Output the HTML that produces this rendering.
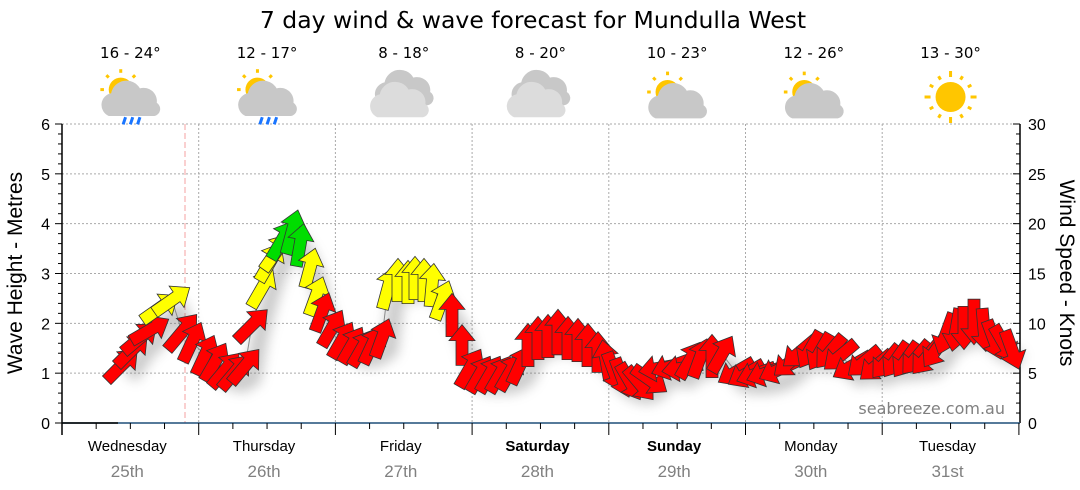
<!DOCTYPE html>
<html><head><meta charset="utf-8"><style>
body{margin:0;background:#fff;width:1080px;height:490px;overflow:hidden}
svg{display:block}
text{font-family:"Liberation Sans","DejaVu Sans",sans-serif}
.dv{font-family:"DejaVu Sans","Liberation Sans",sans-serif}
</style></head><body>
<svg id="s" width="1080" height="490" xmlns="http://www.w3.org/2000/svg">
<defs>
<filter id="sh" x="-50%" y="-50%" width="200%" height="200%"><feGaussianBlur stdDeviation="6"/></filter>
<g id="cloud"><path d="M-22,12 a10,10 0 0 1 2,-19 a13,13 0 0 1 24,-4 a11,11 0 0 1 14,12 a6,6 0 0 1 -2,11 z" fill="#c8c8c8"/></g>
<g id="sunsm" fill="#ffc600" stroke="#ffc600">
<circle cx="0" cy="0" r="10" stroke="none"/>
<g stroke-width="2.5"><line x1="0" y1="-14" x2="0" y2="-17"/><line x1="-14" y1="0" x2="-17" y2="0"/><line x1="10" y1="-10" x2="12" y2="-12"/><line x1="-10" y1="-10" x2="-12" y2="-12"/><line x1="-10" y1="10" x2="-12" y2="12"/></g>
</g>
<g id="rain" stroke="#1a75ff" stroke-width="2.5"><line x1="-6" y1="0" x2="-8" y2="6"/><line x1="0" y1="0" x2="-2" y2="6"/><line x1="6" y1="0" x2="4" y2="6"/></g>
</defs>
<text class="dv" x="533" y="28" text-anchor="middle" font-size="23.5" fill="#000">7 day wind &amp; wave forecast for Mundulla West</text>
<g id="grid"></g>
<g id="arrows"></g>
<g id="top"></g>
</svg>
<script>
const NS="http://www.w3.org/2000/svg";
function el(p,t,a,txt){const e=document.createElementNS(NS,t);for(const k in a)e.setAttribute(k,a[k]);if(txt!=null)e.textContent=txt;p.appendChild(e);return e;}
const g=document.getElementById('grid'),top_=document.getElementById('top'),ar=document.getElementById('arrows');
const X0=62,X1=1020,Y0=423,Y6=124,DW=136.7;
const yv=v=>Y0-(Y0-Y6)*v/6;
for(let i=1;i<=6;i++){el(g,'line',{x1:X0,x2:X1,y1:yv(i),y2:yv(i),stroke:'#aaa','stroke-dasharray':'2,2'});}
for(let d=1;d<7;d++){const x=X0+d*DW;el(g,'line',{x1:x,x2:x,y1:Y6,y2:Y0,stroke:'#aaa','stroke-dasharray':'2,2'});}
el(g,'line',{x1:185,x2:185,y1:Y6,y2:Y0,stroke:'#f4a0a0','stroke-dasharray':'6,3'});
el(g,'line',{x1:X0,x2:X0,y1:Y6,y2:Y0+12,stroke:'#000','stroke-width':1.5});
for(let i=0;i<=30;i++){const y=yv(i/5);el(g,'line',{x1:X0-(i%5?4:7),x2:X0,y1:y,y2:y,stroke:'#000'});}
for(let i=0;i<=6;i++)el(g,'text',{x:50,y:yv(i)+6,'text-anchor':'end','font-size':16},i);
el(g,'line',{x1:X1,x2:X1,y1:Y6,y2:Y0,stroke:'#000','stroke-width':1.5});
for(let i=0;i<=30;i++){const y=yv(i/5);el(g,'line',{x1:X1,x2:X1-(i%5?4:7),y1:y,y2:y,stroke:'#000'});}
for(let i=0;i<=6;i++)el(g,'text',{x:1028,y:yv(i)+6,'font-size':16},i*5);
el(g,'text',{x:22,y:273,'text-anchor':'middle','font-size':21,transform:'rotate(-90 22 273)'},'Wave Height - Metres');
el(g,'text',{x:1060,y:273,'text-anchor':'middle','font-size':21,transform:'rotate(90 1060 273)'},'Wind Speed - Knots');
el(g,'line',{x1:X0,x2:X1,y1:Y0,y2:Y0,stroke:'#1f4e79','stroke-width':1.5});
el(g,'line',{x1:X0,x2:118,y1:Y0,y2:Y0,stroke:'#000','stroke-width':1.5});
for(let k=0;k<=28;k++){const x=X0+k*DW/4;el(g,'line',{x1:x,x2:x,y1:Y0,y2:Y0+(k%4?6:12),stroke:'#000'});}
const days=['Wednesday','Thursday','Friday','Saturday','Sunday','Monday','Tuesday'],dates=['25th','26th','27th','28th','29th','30th','31st'];
const temps=['16 - 24°','12 - 17°','8 - 18°','8 - 20°','10 - 23°','12 - 26°','13 - 30°'];
for(let d=0;d<7;d++){const cx=X0+d*DW+DW/2-3;
 el(g,'text',{x:cx,y:451,'text-anchor':'middle','font-size':15,'font-weight':(d==3||d==4)?'bold':'normal'},days[d]);
 el(g,'text',{x:cx,y:477,'text-anchor':'middle','font-size':17,fill:'#808080'},dates[d]);
 el(top_,'text',{class:'dv',x:cx+3,y:58,'text-anchor':'middle','font-size':15},temps[d]);
 const ix=cx+3,iy=98;
 const w=el(top_,'g',{transform:`translate(${ix},${iy}) scale(1.2) translate(${-ix},${-iy})`});
 if(d<2){el(w,'use',{href:'#sunsm',x:ix-8,y:iy-7});el(w,'use',{href:'#cloud',x:ix+4,y:iy+3});el(w,'use',{href:'#rain',x:ix+2,y:iy+16});}
 else if(d<4){const c=el(w,'g',{transform:`translate(${ix},${iy})`});el(c,'path',{d:'M-18,6 a10,10 0 0 1 2,-19 a13,13 0 0 1 24,-4 a11,11 0 0 1 14,12 a6,6 0 0 1 -2,11 z',fill:'#c8c8c8'});el(c,'path',{d:'M-22,16 a10,10 0 0 1 2,-19 a13,13 0 0 1 24,-4 a11,11 0 0 1 14,12 a6,6 0 0 1 -2,11 z',fill:'#dcdcdc'});}
 else if(d<6){el(w,'use',{href:'#sunsm',x:ix-8,y:iy-5});el(w,'use',{href:'#cloud',x:ix+4,y:iy+5});}
 else{const s=el(top_,'g',{transform:`translate(${ix},${iy-1})`,stroke:'#ffc600','stroke-width':3});el(s,'circle',{r:15,fill:'#ffc600',stroke:'none'});
  for(let a=0;a<360;a+=30){const r=a*Math.PI/180,r1=20,r2=a%90?24:26;el(s,'line',{x1:r1*Math.sin(r),y1:-r1*Math.cos(r),x2:r2*Math.sin(r),y2:-r2*Math.cos(r)});}}
}
el(g,'text',{class:'dv',x:1005,y:414,'text-anchor':'end','font-size':16,fill:'#808080'},'seabreeze.com.au');
const R='#ff0000',Y='#ffff00',G='#00dd00';
const A=[
[122,365,45,R,36],[132,350,45,R,36],[140,338,50,R,36],[150,330,60,R,36],[160,308,55,Y,36],[172,300,55,Y,36],
[182,332,40,R,38],[192,342,25,R,36],[205,355,25,R,36],[215,362,30,R,36],[225,370,40,R,36],[235,372,40,R,36],[245,366,40,R,36],
[252,325,45,R,36],[262,288,30,Y,36],[270,262,30,Y,36],[276,252,35,Y,36],[282,240,30,G,36],[292,232,15,G,38],[300,245,10,G,36],
[310,268,15,Y,34],[316,296,20,Y,34],[322,312,20,R,34],[332,328,30,R,34],[342,340,30,R,34],[352,345,30,R,34],[362,348,30,R,34],[372,345,25,R,34],[382,338,20,R,34],
[388,288,15,Y,36],[398,280,0,Y,36],[408,282,0,Y,36],[415,278,0,Y,36],[424,280,0,Y,36],[432,285,5,Y,36],[442,300,20,Y,34],
[452,315,0,R,36],[462,345,0,R,34],[470,368,30,R,36],[480,374,30,R,34],[490,374,30,R,34],[500,374,30,R,34],[510,372,30,R,34],[520,365,25,R,34],
[528,345,0,R,36],[538,338,0,R,36],[548,336,0,R,36],[558,332,0,R,38],[568,338,0,R,36],[578,340,0,R,36],[588,345,0,R,36],[598,352,0,R,34],[606,360,-10,R,34],
[614,372,160,R,34],[622,378,160,R,34],[630,382,150,R,34],[640,384,140,R,34],[650,380,125,R,34],[660,368,-100,R,36],[672,366,-110,R,36],[682,368,-100,R,34],
[690,360,30,R,34],[700,358,20,R,34],[712,356,0,R,36],[722,354,30,R,34],[736,372,-120,R,34],[746,374,-120,R,34],[756,374,-110,R,34],[766,373,-110,R,34],[778,370,-115,R,34],
[790,362,-130,R,34],[800,352,-130,R,36],[810,350,-150,R,34],[820,352,-150,R,34],[830,352,-140,R,34],[840,356,-130,R,34],[852,366,-120,R,36],[864,362,-130,R,34],
[876,366,-130,R,34],[886,362,-140,R,34],[896,360,-145,R,34],[906,360,-145,R,34],[916,358,-140,R,34],[926,358,-140,R,34],[936,350,-145,R,34],
[946,334,-160,R,36],[956,330,-170,R,36],[964,328,180,R,36],[974,322,180,R,38],[984,330,175,R,36],[994,340,160,R,34],[1004,344,150,R,34],[1012,350,160,R,34]];
const sh=el(ar,'g',{filter:'url(#sh)',opacity:0.35});
el(sh,'polyline',{points:A.map(a=>a[0]+8+','+(a[1]+12)).join(' '),fill:'none',stroke:'#666','stroke-width':16});
el(ar,'polyline',{points:A.map(a=>a[0]+','+a[1]).join(' '),fill:'none',stroke:'#888','stroke-width':1});
for(const [x,y,ang,c,L0] of A){const L=L0*1.2,h=L/2,hw=13,bw=6,hl=16;
 el(ar,'polygon',{points:`0,${-h} ${hw},${-h+hl} ${bw},${-h+hl} ${bw},${h} ${-bw},${h} ${-bw},${-h+hl} ${-hw},${-h+hl}`,fill:c,stroke:'#333','stroke-width':0.8,transform:`translate(${x},${y}) rotate(${ang})`});}
</script>
</body></html>
